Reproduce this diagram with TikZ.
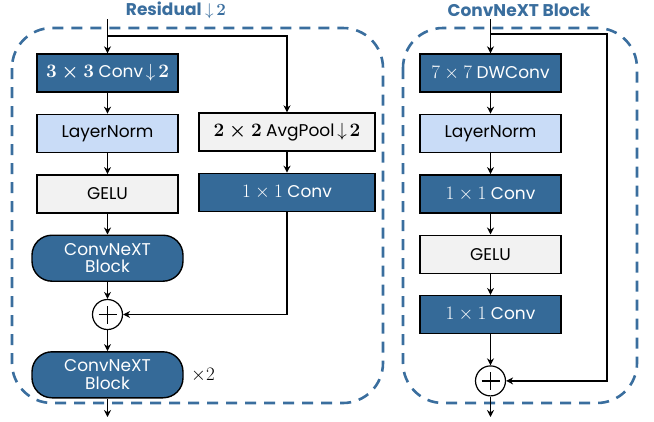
\RequirePackage{fix-cm}
\documentclass[tikz,border=0pt]{standalone}
\usepackage{fontspec}
\setmainfont{Poppins}
\usepackage{amsmath}
\definecolor{cnblue}{HTML}{356A98}
\definecolor{cnlight}{HTML}{C9DCF7}
\definecolor{cngray}{HTML}{F2F2F2}
\definecolor{cndash}{HTML}{3A6E9E}
\usetikzlibrary{arrows.meta, positioning, calc}
\newcommand{\szm}[1]{{\fontsize{19}{20}\selectfont$#1$}}
\newcommand{\szmb}[1]{{\fontsize{19}{20}\selectfont\boldmath$#1$}}

\begin{document}
\begin{tikzpicture}[
  x=1pt, y=-1pt,
  node distance=21pt,
  font=\fontsize{17}{18}\selectfont,
  layer/.style={rectangle, draw=black, line width=1.4pt,
    minimum width=141pt, minimum height=38pt,
    inner sep=2pt, align=center},
  darkbox/.style={layer, fill=cnblue, text=white},
  normbox/.style={layer, fill=cnlight},
  actbox/.style={layer, fill=cngray},
  blockbox/.style={darkbox, rounded corners=20pt,
    minimum width=151pt, minimum height=46pt,
    font=\fontsize{17}{17.5}\selectfont},
  addop/.style={circle, draw=black, line width=1.2pt, fill=white,
    minimum size=30pt, inner sep=0pt,
    path picture={
      \draw[line width=1.2pt] ($(path picture bounding box.center)+(-9pt,0)$)
        -- ($(path picture bounding box.center)+(9pt,0)$);
      \draw[line width=1.2pt] ($(path picture bounding box.center)+(0,-9pt)$)
        -- ($(path picture bounding box.center)+(0,9pt)$);}},
  arr/.style={-{Stealth[length=7pt, width=7pt]}, line width=1.2pt},
  dashbox/.style={draw=cndash, line width=2.6pt,
    dash pattern=on 11pt off 8pt, rounded corners=40pt},
  title/.style={text=cndash, font=\fontsize{17}{18}\selectfont\bfseries}
]
  \useasboundingbox (0,0) rectangle (654,421);

  % dashed frames
  \draw[dashbox] (12,28) rectangle (383,403);
  \draw[dashbox] (403,28) rectangle (637,403);

  % residual downsampling
  \node[title] (ttl1) at (176,10.5)
    {Residual {\fontsize{17}{18}\selectfont$\downarrow$\,\boldmath$2$}};
  \node[darkbox] (conv) at (107.5,73)
    {\szmb{3\times3} Conv\,\szm{\downarrow}\,\szmb{2}};
  \node[normbox, below=of conv] (ln1) {LayerNorm};
  \node[actbox, below=of ln1] (gelu1) {GELU};
  \node[blockbox, below=of gelu1] (blk1) {ConvNeXT\\Block};
  \node[addop, below=17pt of blk1] (add1) {};
  \node[blockbox, below=of add1] (blk2) {ConvNeXT\\Block};
  \node[right=4pt of blk2] (rep) {\szm{\times2}};
  \node[actbox, minimum width=176pt] (pool) at (287,132)
    {\szmb{2\times2} AvgPool\,\szm{\downarrow}\,\szmb{2}};
  \node[darkbox, minimum width=176pt, below=of pool] (proj) {\szm{1\times1} Conv};

  \coordinate (in1) at (107.5,19);
  \coordinate (split1) at (107.5,36);
  \coordinate (out1) at (107.5,417);

  \draw[arr] (in1) -- (conv);
  \draw[arr] (split1) -| (pool);
  \draw[arr] (conv) -- (ln1);
  \draw[arr] (ln1) -- (gelu1);
  \draw[arr] (gelu1) -- (blk1);
  \draw[arr] (blk1) -- (add1);
  \draw[arr] (pool) -- (proj);
  \draw[arr] (proj) |- (add1);
  \draw[arr] (add1) -- (blk2);
  \draw[arr] (blk2) -- (out1);

  % convnext block
  \node[title] (ttl2) at (519,10) {ConvNeXT Block};
  \node[darkbox] (dw) at (490.5,73) {\szm{7\times7} DWConv};
  \node[normbox, below=of dw] (ln2) {LayerNorm};
  \node[darkbox, below=of ln2] (pw1) {\szm{1\times1} Conv};
  \node[actbox, below=of pw1] (gelu2) {GELU};
  \node[darkbox, below=of gelu2] (pw2) {\szm{1\times1} Conv};
  \node[addop, below=31pt of pw2] (add2) {};

  \coordinate (in2) at (490.5,19);
  \coordinate (split2) at (490.5,34);
  \coordinate (skip) at (607,34);
  \coordinate (out2) at (490.5,417);

  \draw[arr] (in2) -- (dw);
  \draw[arr] (split2) -- (skip) |- (add2);
  \draw[arr] (dw) -- (ln2);
  \draw[arr] (ln2) -- (pw1);
  \draw[arr] (pw1) -- (gelu2);
  \draw[arr] (gelu2) -- (pw2);
  \draw[arr] (pw2) -- (add2);
  \draw[arr] (add2) -- (out2);
\end{tikzpicture}
\end{document}
